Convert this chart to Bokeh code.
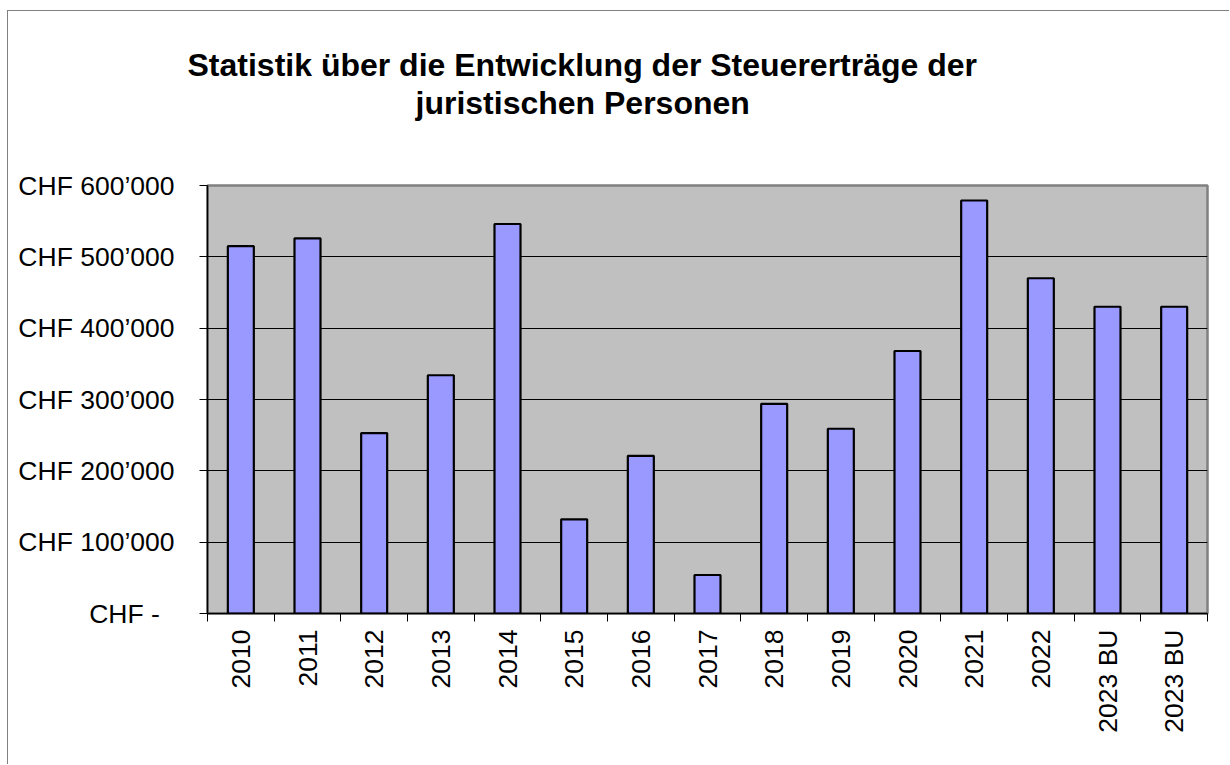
import math
from bokeh.plotting import figure
from bokeh.models import Range1d, FixedTicker, Title, ColumnDataSource
from bokeh.embed import file_html
from bokeh.resources import INLINE

# ---- data ----
categories = ["2010", "2011", "2012", "2013", "2014", "2015", "2016", "2017",
              "2018", "2019", "2020", "2021", "2022", "2023 BU", "2023 BU"]
values = [515000, 526000, 253000, 334000, 546000, 132000, 221000, 54000,
          294000, 259000, 368000, 579000, 470000, 430000, 430000]
y_ticks = [0, 100000, 200000, 300000, 400000, 500000, 600000]
y_tick_labels = ["CHF -\u00a0\u00a0", "CHF 100\u2019000", "CHF 200\u2019000", "CHF 300\u2019000",
                 "CHF 400\u2019000", "CHF 500\u2019000", "CHF 600\u2019000"]
title_lines = ["Statistik über die Entwicklung der Steuererträge der",
               "juristischen Personen"]

FONT = "Liberation Sans"

n = len(categories)
centers = [i + 0.5 for i in range(n)]
bounds = [float(i) for i in range(n + 1)]

W, H = 1222, 754
FL, FR, FT, FB = 199, 23, 174, 152

p = figure(width=W, height=H, output_backend="svg", toolbar_location=None,
           x_range=Range1d(0, n), y_range=Range1d(0, 600000),
           min_border_left=FL, min_border_right=FR, min_border_top=FT, min_border_bottom=FB,
           background_fill_color="#C0C0C0", border_fill_color="white")
p.styles = {"margin-left": "7px", "margin-top": "10px",
            "border-left": "1px solid #808080", "border-top": "1px solid #808080"}

src = ColumnDataSource(dict(x=centers, top=values, label=categories))
p.vbar(x="x", top="top", bottom=0, width=0.39, source=src,
       fill_color="#9999FF", line_color="black", line_width=2.2)

# y axis
p.yaxis.ticker = FixedTicker(ticks=y_ticks, minor_ticks=[])
p.yaxis.major_label_overrides = {t: l for t, l in zip(y_ticks, y_tick_labels)}
p.yaxis.major_label_text_font = FONT
p.yaxis.major_label_text_font_size = "26.5px"
p.yaxis.major_label_text_color = "black"
p.yaxis.major_label_standoff = 25
p.yaxis.major_tick_out = 8
p.yaxis.major_tick_in = 0
p.yaxis.minor_tick_line_color = None
p.yaxis.axis_line_color = "black"
p.yaxis.axis_line_width = 1.5

# x axis: labels at centers, ticks (minor) at category boundaries
p.xaxis.ticker = FixedTicker(ticks=centers, minor_ticks=bounds)
p.xaxis.major_label_overrides = {c: l for c, l in zip(centers, categories)}
p.xaxis.major_label_orientation = math.pi / 2
p.xaxis.major_label_text_font = FONT
p.xaxis.major_label_text_font_size = "26.5px"
p.xaxis.major_label_text_color = "black"
p.xaxis.major_tick_out = 0
p.xaxis.major_tick_in = 0
p.xaxis.major_label_standoff = 8
p.xaxis.minor_tick_out = 8
p.xaxis.minor_tick_in = 0
p.xaxis.minor_tick_line_color = "black"
p.xaxis.minor_tick_line_width = 1
p.xaxis.axis_line_color = "black"
p.xaxis.axis_line_width = 1.5

p.xgrid.grid_line_color = None
p.ygrid.grid_line_color = "black"
p.ygrid.grid_line_width = 1

p.outline_line_color = "#808080"
p.outline_line_width = 2.5

# title: two bold lines stacked above the frame (closest first)
p.title.text = ""
p.add_layout(Title(text=" ", text_font_size="10px", standoff=50), "above")  # spacer
p.add_layout(Title(text=title_lines[1], align="left", offset=208, standoff=0,
                   vertical_align="top", text_font=FONT, text_font_style="bold",
                   text_font_size="32px", text_color="black"), "above")
p.add_layout(Title(text=title_lines[0], align="left", offset=-20, standoff=0,
                   vertical_align="top", text_font=FONT, text_font_style="bold",
                   text_font_size="32px", text_color="black"), "above")

open("out.html", "w").write(file_html(p, INLINE))
